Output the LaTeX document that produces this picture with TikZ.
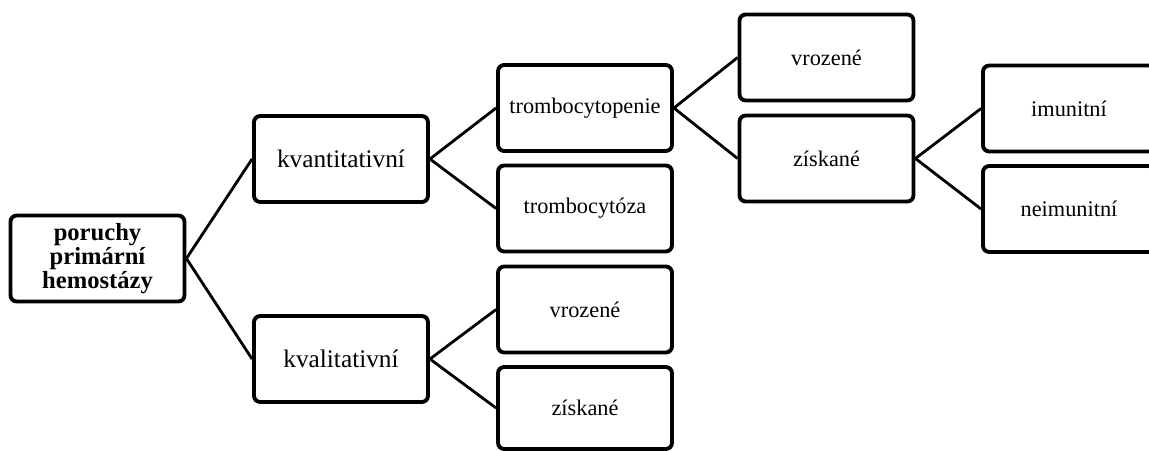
\documentclass[tikz,border=0pt]{standalone}
\usepackage{fontspec}
\setmainfont{Liberation Serif}
\usetikzlibrary{positioning}

\begin{document}
\begin{tikzpicture}[
      x=0.02cm, y=-0.02cm,
      box/.style={
        rounded corners=3.5pt,
        line width=2.2pt,
        draw=black,
        minimum width=3.48cm,
        minimum height=1.72cm,
        align=center,
        inner sep=1pt
      },
      rootbox/.style={box, font=\fontsize{14}{12.4}\selectfont\bfseries},
      mainbox/.style={box, font=\fontsize{14.4}{16}\selectfont},
      subbox/.style={box, font=\fontsize{12.7}{14}\selectfont},
      link/.style={draw=black, line width=1.6pt}
    ]
      \useasboundingbox (0,0) rectangle (1149,450);
      % root
      \node[rootbox] (root) at (97.5,258.5) {poruchy\\primární\\hemostázy};
      % first level
      \node[mainbox] (kvant) at (341,159) {kvantitativní};
      \node[mainbox] (kval) at (341,359) {kvalitativní};
      % second level
      \node[subbox] (tpenie) at (585,108) {trombocytopenie};
      \node[subbox] (tcytoza) at (585,208.5) {trombocytóza};
      \node[subbox] (vrozA) at (585,309.5) {vrozené};
      \node[subbox, minimum height=1.64cm] (ziskA) at (585,408) {získané};
      % third level
      \node[subbox] (vrozB) at (826.5,57.5) {vrozené};
      \node[subbox] (ziskB) at (826.5,158.5) {získané};
      % fourth level
      \node[subbox, minimum width=3.44cm] (imun) at (1069,108.5) {imunitní};
      \node[subbox, minimum width=3.44cm] (neimun) at (1069,209) {neimunitní};
      \draw[link] (root.east) -- (kvant.west);
      \draw[link] (root.east) -- (kval.west);
      \draw[link] (kvant.east) -- (tpenie.west);
      \draw[link] (kvant.east) -- (tcytoza.west);
      \draw[link] (kval.east) -- (vrozA.west);
      \draw[link] (kval.east) -- (ziskA.west);
      \draw[link] (tpenie.east) -- (vrozB.west);
      \draw[link] (tpenie.east) -- (ziskB.west);
      \draw[link] (ziskB.east) -- (imun.west);
      \draw[link] (ziskB.east) -- (neimun.west);
    \end{tikzpicture}
\end{document}
